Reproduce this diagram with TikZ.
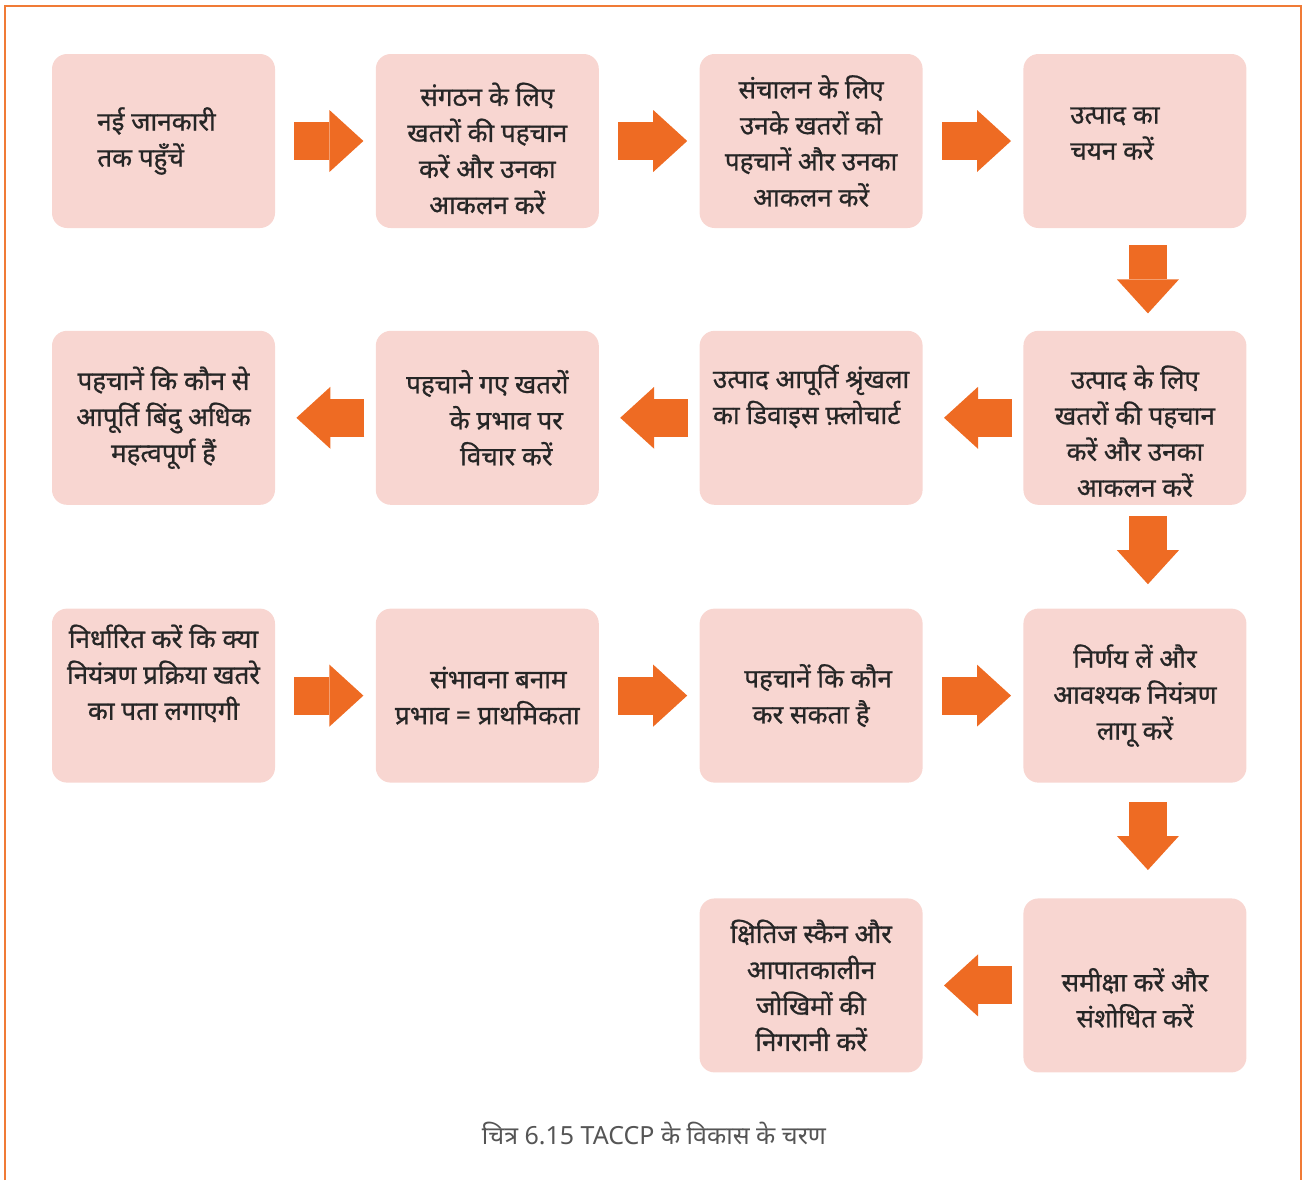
\documentclass[tikz,border=0pt]{standalone}
\usepackage{fontspec}
\newfontfamily\hindi[Script=Devanagari, FakeBold=0.8]{Noto Sans}
\newfontfamily\hindicap[Script=Devanagari]{Noto Sans}
\usetikzlibrary{positioning, arrows.meta, calc}

\definecolor{boxpink}{HTML}{F8D6D1}
\definecolor{arroworange}{HTML}{EE6B23}
\definecolor{frameorange}{HTML}{F07B36}
\definecolor{textdark}{HTML}{262626}
\definecolor{captiongray}{HTML}{555555}

\begin{document}
\begin{tikzpicture}[x=0.5pt, y=-0.5pt,
  stepbox/.style={rectangle, rounded corners=7.5pt, fill=boxpink, minimum width=111.5pt, minimum height=87pt, inner sep=2pt, align=center, text=textdark, font=\hindi\fontsize{13}{18}\selectfont},
  bigarrow/.style={line width=19pt, draw=arroworange, -{Triangle[length=17pt, width=31pt, line width=0pt]}},
  goright/.style={bigarrow, shorten <=9.5pt, shorten >=6pt},
  goleft/.style={bigarrow, shorten <=5.5pt, shorten >=10.5pt}]
\useasboundingbox (0,0) rectangle (1304,1180);
\draw[frameorange, line width=1.25pt] (5,1180) -- (5,6) -- (1301,6) -- (1301,1180);

% row 1
\node[stepbox, align=left] (b1) at (163.5,141) {नई जानकारी\hspace*{7pt}\\तक पहुँचें};
\node[stepbox, right=50pt of b1] (b2) {\strut\\[-11.5pt]संगठन के लिए\\खतरों की पहचान\\करें और उनका\\आकलन करें};
\node[stepbox, right=50pt of b2] (b3) {संचालन के लिए\\उनके खतरों को\\पहचानें और उनका\\आकलन करें};
\node[stepbox, align=left, right=50pt of b3] (b4) {उत्पाद का\hspace*{20pt}\\चयन करें\\[-16pt]\strut};

% row 2
\node[stepbox, below=51pt of b4] (b8) {\strut\\[-5.5pt]उत्पाद के लिए\\खतरों की पहचान\\करें और उनका\\आकलन करें};
\node[stepbox, align=left, left=50pt of b8] (b7) {उत्पाद आपूर्ति श्रृंखला\\का डिवाइस फ़्लोचार्ट\\\strut};
\node[stepbox, left=50pt of b7] (b6) {पहचाने गए खतरों\\\hspace*{19pt}के प्रभाव पर\\\hspace*{19pt}विचार करें};
\node[stepbox, left=50pt of b6] (b5) {पहचानें कि कौन से\\आपूर्ति बिंदु अधिक\\महत्वपूर्ण हैं};

% row 3
\node[stepbox, below=51.5pt of b5] (b9) {निर्धारित करें कि क्या\\नियंत्रण प्रक्रिया खतरे\\का पता लगाएगी\\\strut};
\node[stepbox, right=50pt of b9] (b10) {\hspace*{11pt}संभावना बनाम\\प्रभाव = प्राथमिकता};
\node[stepbox, right=50pt of b10] (b11) {\hspace*{7pt}पहचानें कि कौन\\कर सकता है};
\node[stepbox, right=50pt of b11] (b12) {निर्णय लें और\\आवश्यक नियंत्रण\\लागू करें};

% row 4
\node[stepbox, below=57.5pt of b12] (b14) {\strut\\[-6.5pt]समीक्षा करें और\\संशोधित करें};
\node[stepbox, left=50pt of b14] (b13) {क्षितिज स्कैन और\\आपातकालीन\\जोखिमों की\\निगरानी करें};

\node[text=captiongray, font=\hindicap\fontsize{12.5}{14}\selectfont] (caption) at (654,1133) {चित्र 6.15 TACCP के विकास के चरण};

\draw[goright] (b1.east) -- (b2.west);
\draw[goright] (b2.east) -- (b3.west);
\draw[goright] (b3.east) -- (b4.west);
\draw[bigarrow, shorten <=8.5pt, shorten >=8.5pt] ([xshift=6.5pt]b4.south) -- ([xshift=6.5pt]b8.north);
\draw[goleft] (b8.west) -- (b7.east);
\draw[goleft] (b7.west) -- (b6.east);
\draw[goleft] (b6.west) -- (b5.east);
\draw[bigarrow, shorten <=5.5pt, shorten >=12pt] ([xshift=6.5pt]b8.south) -- ([xshift=6.5pt]b12.north);
\draw[goright] (b9.east) -- (b10.west);
\draw[goright] (b10.east) -- (b11.west);
\draw[goright] (b11.east) -- (b12.west);
\draw[bigarrow, shorten <=9.5pt, shorten >=14pt] ([xshift=6.5pt]b12.south) -- ([xshift=6.5pt]b14.north);
\draw[goleft] (b14.west) -- (b13.east);
\end{tikzpicture}
\end{document}
